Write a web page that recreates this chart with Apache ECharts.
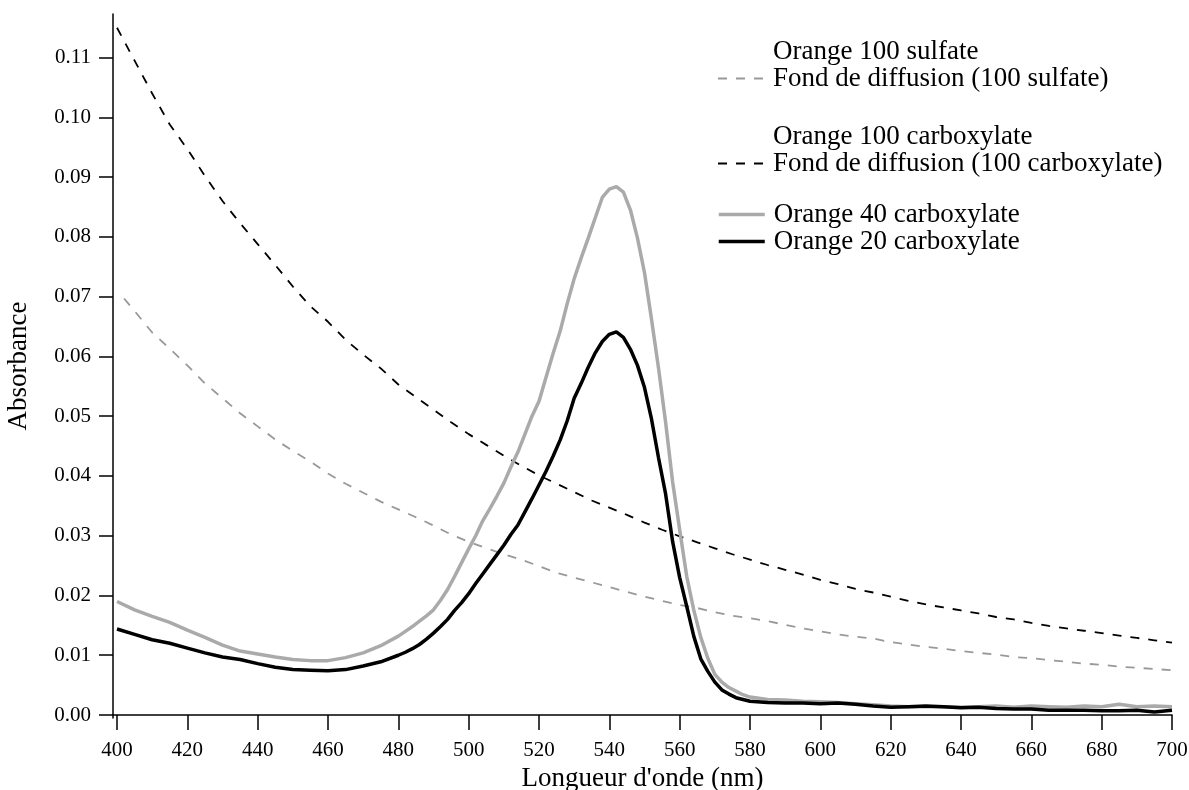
<!DOCTYPE html>
<html><head><meta charset="utf-8">
<script src="https://cdn.jsdelivr.net/npm/echarts@6/dist/echarts.min.js"></script>
<style>html,body{margin:0;padding:0;background:#fff}#c{width:1189px;height:790px}</style>
</head><body><div id="c"></div>
<script>
// tick values
const xTicks = [400,420,440,460,480,500,520,540,560,580,600,620,640,660,680,700];
const yTicks = [0,0.01,0.02,0.03,0.04,0.05,0.06,0.07,0.08,0.09,0.10,0.11];

// Fond de diffusion (100 carboxylate)
const wlFondCarbox = [400,405,410,415,420,425,430,435,440,445,450,455,460,465,470,475,480,485,490,495,500,505,510,515,520,525,530,535,540,545,550,555,560,565,570,575,580,585,590,595,600,605,610,615,620,625,630,635,640,645,650,655,660,665,670,675,680,685,690,695,700];
const fondCarbox = [0.1150,0.1095,0.1040,0.0988,0.0947,0.0902,0.0860,0.0823,0.0788,0.0753,0.0717,0.0684,0.0658,0.0628,0.0603,0.0580,0.0553,0.0532,0.0511,0.0490,0.0470,0.0452,0.0434,0.0417,0.0401,0.0387,0.0373,0.0359,0.0347,0.0335,0.0322,0.0310,0.0299,0.0289,0.0279,0.0269,0.0260,0.0251,0.0243,0.0235,0.0226,0.0219,0.0211,0.0205,0.0198,0.0191,0.0185,0.0180,0.0175,0.0170,0.0164,0.0160,0.0154,0.0149,0.0145,0.0141,0.0137,0.0133,0.0129,0.0125,0.0121];

// Fond de diffusion (100 sulfate)
const wlFondSulf = [402,405,410,415,420,425,430,435,440,445,450,455,460,465,470,475,480,485,490,495,500,505,510,515,520,525,530,535,540,545,550,555,560,565,570,575,580,585,590,595,600,605,610,615,620,625,630,635,640,645,650,655,660,665,670,675,680,685,690,695,700];
const fondSulf = [0.0697,0.0676,0.0640,0.0613,0.0585,0.0555,0.0530,0.0505,0.0483,0.0461,0.0442,0.0424,0.0404,0.0387,0.0372,0.0357,0.0344,0.0331,0.0317,0.0302,0.0290,0.0279,0.0269,0.0260,0.0249,0.0238,0.0230,0.0222,0.0214,0.0206,0.0198,0.0191,0.0184,0.0179,0.0172,0.0166,0.0162,0.0157,0.0151,0.0145,0.0140,0.0135,0.0131,0.0128,0.0122,0.0118,0.0114,0.0111,0.0107,0.0104,0.0101,0.0097,0.0095,0.0092,0.0089,0.0086,0.0084,0.0081,0.0079,0.0077,0.0075];

// wavelengths of the measured spectra
const wlSpectra = [400,405,410,415,420,425,430,435,440,445,450,455,460,465,470,475,480,
  482,484,486,488,490,492,494,496,498,500,502,504,506,508,510,512,514,516,518,520,522,524,526,528,530,532,534,536,538,540,542,544,546,548,550,552,554,556,558,560,562,564,566,568,570,572,574,576,578,580,
  585,590,595,600,605,610,615,620,625,630,635,640,645,650,655,660,665,670,675,680,685,690,695,700];

// Orange 40 carboxylate
const orange40 = [0.0190,0.0176,0.0165,0.0155,0.0142,0.0130,0.0117,0.0107,0.0102,0.0097,0.0093,0.0091,0.0091,0.0096,0.0104,0.0116,0.0132,
  0.0140,0.0148,0.0157,0.0166,0.0176,0.0192,0.0210,0.0232,0.0255,0.0278,0.0300,0.0325,0.0345,0.0366,0.0388,0.0415,0.0440,0.0470,0.0500,0.0525,0.0565,0.0605,0.0642,0.0688,0.0730,0.0765,0.0798,0.0832,0.0866,0.0880,0.0884,0.0875,0.0845,0.0798,0.0740,0.0662,0.0580,0.0490,0.0390,0.0310,0.0232,0.0176,0.0130,0.0095,0.0068,0.0055,0.0046,0.0040,0.0034,0.0030,
  0.0026,0.0025,0.0023,0.0022,0.0021,0.0019,0.0017,0.0015,0.0014,0.0014,0.0014,0.0013,0.0014,0.0015,0.0013,0.0015,0.0014,0.0013,0.0015,0.0014,0.0018,0.0014,0.0015,0.0014];

// Orange 20 carboxylate
const orange20 = [0.0144,0.0135,0.0126,0.0120,0.0112,0.0104,0.0097,0.0093,0.0086,0.0080,0.0076,0.0075,0.0074,0.0076,0.0082,0.0089,0.0100,
  0.0105,0.0111,0.0118,0.0127,0.0137,0.0148,0.0160,0.0175,0.0188,0.0203,0.0220,0.0236,0.0252,0.0268,0.0284,0.0302,0.0318,0.0340,0.0362,0.0385,0.0408,0.0433,0.0460,0.0492,0.0530,0.0555,0.0582,0.0606,0.0625,0.0637,0.0641,0.0632,0.0612,0.0585,0.0548,0.0495,0.0430,0.0370,0.0290,0.0230,0.0182,0.0132,0.0094,0.0073,0.0055,0.0042,0.0035,0.0029,0.0026,0.0023,
  0.0021,0.0020,0.0020,0.0019,0.0020,0.0018,0.0015,0.0013,0.0014,0.0015,0.0014,0.0012,0.0013,0.0011,0.0010,0.0010,0.0008,0.0008,0.0008,0.0007,0.0007,0.0008,0.0005,0.0008];

const pair = (xs, ys) => xs.map((x, i) => [x, ys[i]]);
const FONT = '"Liberation Serif", "Times New Roman", serif';

const chart = echarts.init(document.getElementById('c'), null, {renderer: 'canvas'});

const legendBase = {
  orient: 'vertical', left: 717, padding: 0, itemWidth: 46, itemHeight: 14, itemGap: 0,
  selectedMode: false,
  itemStyle: {opacity: 0},
  textStyle: {fontFamily: FONT, fontSize: 27, lineHeight: 25, color: '#000', padding: [0, 0, 0, 4]}
};

const hidden = {lineStyle: {opacity: 0}, itemStyle: {opacity: 0}};

chart.setOption({
  animation: false,
  backgroundColor: '#fff',
  grid: {left: 113, right: 17, top: 14, bottom: 72, outerBoundsMode: 'none', containLabel: false},
  legend: [
    Object.assign({}, legendBase, {top: 38, data: [
      {name: 'Orange 100 sulfate'},
      {name: 'Fond de diffusion (100 sulfate)', lineStyle: {width: 1.8}}]}),
    Object.assign({}, legendBase, {top: 123, data: [
      {name: 'Orange 100 carboxylate'},
      {name: 'Fond de diffusion (100 carboxylate)', lineStyle: {width: 1.8}}]}),
    Object.assign({}, legendBase, {top: 201, data: [
      {name: 'Orange 40 carboxylate', lineStyle: {width: 3.5}},
      {name: 'Orange 20 carboxylate', lineStyle: {width: 3.5}}]})
  ],
  xAxis: {
    type: 'value', min: 398.86, max: 700,
    name: "Longueur d'onde (nm)", nameLocation: 'middle', nameGap: 42,
    nameTextStyle: {fontFamily: FONT, fontSize: 27, color: '#000'},
    axisLine: {show: true, lineStyle: {color: '#000', width: 1.5}},
    axisTick: {show: true, length: 15, customValues: xTicks, lineStyle: {color: '#000', width: 1.5}},
    axisLabel: {customValues: xTicks, color: '#000', fontFamily: FONT, fontSize: 21, margin: 22},
    splitLine: {show: false}
  },
  yAxis: {
    type: 'value', min: -0.0005, max: 0.1173,
    name: 'Absorbance', nameLocation: 'middle', nameGap: 81, nameRotate: 90,
    nameTextStyle: {fontFamily: FONT, fontSize: 27, color: '#000'},
    axisLine: {show: true, lineStyle: {color: '#000', width: 1.5}},
    axisTick: {show: true, length: 14, customValues: yTicks, lineStyle: {color: '#000', width: 1.5}},
    axisLabel: {customValues: yTicks, color: '#000', fontFamily: FONT, fontSize: 21, margin: 22,
      formatter: v => v.toFixed(2)},
    splitLine: {show: false}
  },
  series: [
    Object.assign({name: 'Orange 100 sulfate', type: 'line', data: [], symbol: 'none'}, hidden),
    {name: 'Fond de diffusion (100 sulfate)', type: 'line', symbol: 'none', silent: true,
      data: pair(wlFondSulf, fondSulf), lineStyle: {color: '#999', width: 1.8, type: [9, 9]}, itemStyle: {color: '#999'}},
    Object.assign({name: 'Orange 100 carboxylate', type: 'line', data: [], symbol: 'none'}, hidden),
    {name: 'Fond de diffusion (100 carboxylate)', type: 'line', symbol: 'none', silent: true,
      data: pair(wlFondCarbox, fondCarbox), lineStyle: {color: '#000', width: 1.8, type: [9, 9]}, itemStyle: {color: '#000'}},
    {name: 'Orange 40 carboxylate', type: 'line', symbol: 'none', silent: true,
      data: pair(wlSpectra, orange40), lineStyle: {color: '#aaa', width: 3.5}, itemStyle: {color: '#aaa'}},
    {name: 'Orange 20 carboxylate', type: 'line', symbol: 'none', silent: true,
      data: pair(wlSpectra, orange20), lineStyle: {color: '#000', width: 3.5}, itemStyle: {color: '#000'}}
  ]
});
</script>
</body></html>
